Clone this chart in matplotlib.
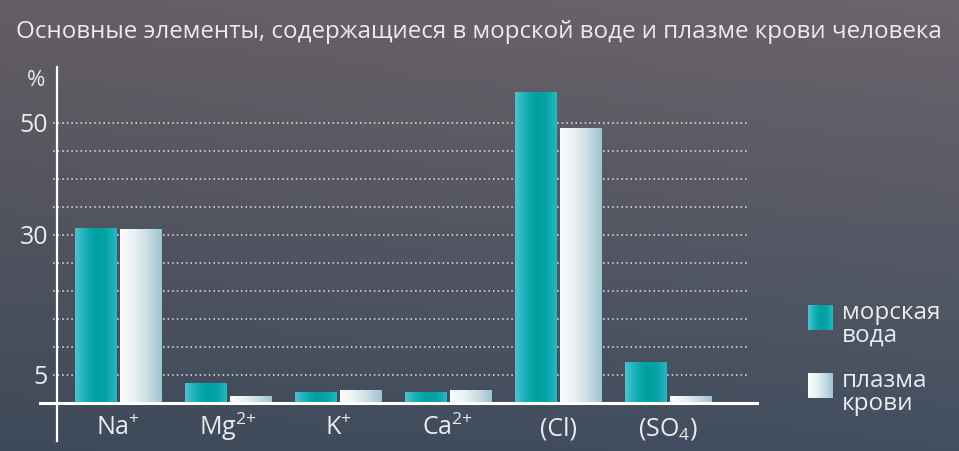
import numpy as np
import matplotlib.pyplot as plt
from matplotlib.colors import LinearSegmentedColormap
from matplotlib.lines import Line2D
import matplotlib.transforms as mtransforms

plt.rcParams['font.family'] = ['Open Sans', 'DejaVu Sans']
plt.rcParams['mathtext.fontset'] = 'custom'
plt.rcParams['mathtext.rm'] = 'Open Sans'
plt.rcParams['mathtext.default'] = 'regular'

# data (percent)
categories = ['Na$^{+}$', 'Mg$^{\\text{2+}}$', 'K$^{+}$', 'Ca$^{\\text{2+}}$', '(Cl)', '(SO$_{4}$)']
sea_water = [31.2, 3.4, 1.8, 1.8, 55.5, 7.2]
blood_plasma = [31.0, 1.1, 2.3, 2.3, 49.1, 1.1]
series_names = ['морская\nвода', 'плазма\nкрови']
yticks = [5, 30, 50]
grid_levels = [5, 10, 15, 20, 25, 30, 35, 40, 45, 50]

title = 'Основные элементы, содержащиеся в морской воде и плазме крови человека'
text_col = '#eaebef'

sea_cmap = LinearSegmentedColormap.from_list(
    'sea', ['#4cc3d2', '#17b0b8', '#00a09f', '#05a3a6', '#2bb5c3'])
plasma_cmap = LinearSegmentedColormap.from_list(
    'plasma', ['#fbfdfd', '#eaf2f4', '#c8dde3', '#9ec4cf'])

W, H = 959, 451
fig = plt.figure(figsize=(W / 100, H / 100), dpi=100)

# background gradient
bg = fig.add_axes([0, 0, 1, 1])
bg.set_axis_off()
yy, xx = np.mgrid[0:1:200j, 0:1:200j]
top = np.array([108, 100, 107]) / 255
bot = np.array([66, 79, 96]) / 255
grad = top[None, None, :] * (1 - yy[..., None]) + bot[None, None, :] * yy[..., None]
grad = grad * (0.93 + 0.07 * xx[..., None])
grad = np.clip(grad, 0, 1)
bg.imshow(grad, extent=[0, 1, 0, 1], aspect='auto', origin='upper')
bg.set_xlim(0, 1)
bg.set_ylim(0, 1)

ax = fig.add_axes([57 / W, (H - 403) / H, 700 / W, 336 / H])
ax.patch.set_alpha(0)
for s in ax.spines.values():
    s.set_visible(False)

x = np.arange(len(categories))
bw = 0.373
off = 0.205

gradient = np.linspace(0, 1, 256).reshape(1, -1)
for vals, cmap, sign in [(sea_water, sea_cmap, -1), (blood_plasma, plasma_cmap, 1)]:
    bars = ax.bar(x + sign * off, vals, width=bw, color='none', zorder=3)
    for b in bars:
        x0, y0 = b.get_x(), b.get_y()
        ax.imshow(gradient, cmap=cmap, extent=[x0, x0 + b.get_width(), y0, y0 + b.get_height()],
                  aspect='auto', zorder=3)

ax.set_xlim(-0.5545, 5.809)
ax.set_ylim(0, 60)

# dotted grid
ytrans = ax.get_yaxis_transform()
for g in grid_levels:
    ax.plot([-4 / 700, 691 / 700], [g, g], transform=ytrans, color='white',
            linestyle=(0, (1, 2)), linewidth=1.1, alpha=0.85, zorder=2, clip_on=False)

# axis lines
ax.add_line(Line2D([0, 0], [-38 / 336, 1], transform=ax.transAxes, color='white',
                   linewidth=1.6, clip_on=False, zorder=5))
ax.add_line(Line2D([-17 / 700, 1], [0, 0], transform=ax.transAxes, color='white',
                   linewidth=2.2, clip_on=False, zorder=5))

ax.set_yticks(yticks)
ax.set_yticklabels([str(t) for t in yticks])
ax.tick_params(axis='y', length=0, pad=6.5, labelsize=18, labelcolor=text_col)
ax.set_xticks([])

xtrans = mtransforms.blended_transform_factory(ax.transData, ax.transAxes)
for i, lab in enumerate(categories):
    ax.text(i, -32 / 336, lab, transform=xtrans, ha='center', va='baseline',
            fontsize=18, color=text_col)

fig.text(36 / W, 1 - 80 / H, '%', ha='center', va='center', fontsize=16, color=text_col)
fig.text(479 / W, 1 - 32 / H, title, ha='center', va='center', fontsize=17.4, color=text_col)

# legend
for k, (cmap, name) in enumerate([(sea_cmap, series_names[0]), (plasma_cmap, series_names[1])]):
    ytop = 305 + k * 68
    sw = fig.add_axes([808 / W, (H - ytop - 25) / H, 25 / W, 25 / H])
    sw.imshow(gradient, cmap=cmap, aspect='auto')
    sw.set_axis_off()
    fig.text(842 / W, 1 - (ytop - 4) / H, name, ha='left', va='top', fontsize=17.5,
             color=text_col, linespacing=0.92)

fig.savefig('out.png', dpi=100)
